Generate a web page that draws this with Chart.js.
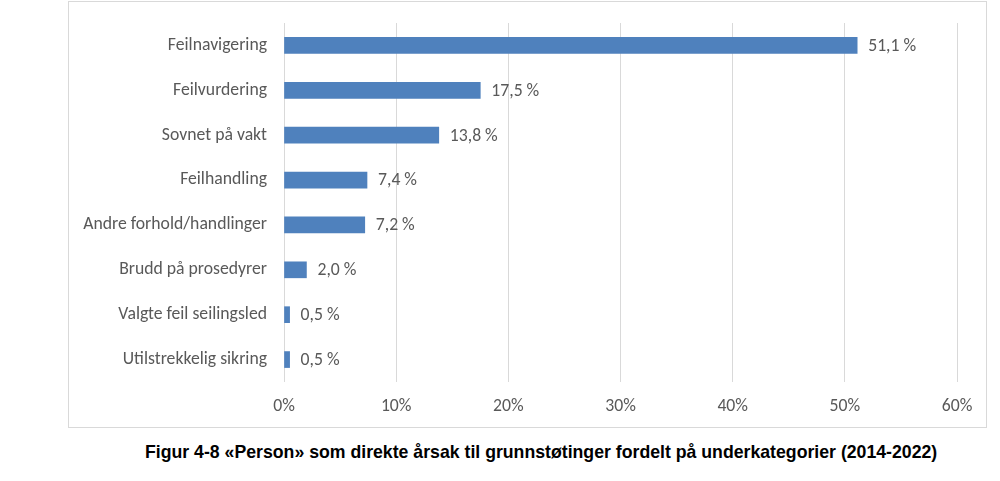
<!DOCTYPE html>
<html><head><meta charset="utf-8">
<script src="https://cdn.jsdelivr.net/npm/chart.js@4"></script>
<style>
html,body{margin:0;padding:0;background:#fff;width:1000px;height:481px;overflow:hidden}
#box{position:absolute;left:68px;top:1px;width:917px;height:425px;border:1px solid #d9d9d9;box-sizing:content-box}
#wrap{position:absolute;left:1px;top:0px;width:916px;height:425px}
#cap{position:absolute;left:0;top:442px;width:1000px;font-family:"Liberation Sans",Arial,sans-serif;font-weight:bold;font-size:17.7px;color:#000;white-space:nowrap}
#cap span{position:absolute;left:145px}
</style></head>
<body>
<div id="box"><div id="wrap"><canvas id="c"></canvas></div></div>
<div id="cap"><span id="capt">Figur 4-8 «Person» som direkte årsak til grunnstøtinger fordelt på underkategorier (2014-2022)</span></div>
<script>
const categories = ["Feilnavigering","Feilvurdering","Sovnet på vakt","Feilhandling","Andre forhold/handlinger","Brudd på prosedyrer","Valgte feil seilingsled","Utilstrekkelig sikring"];
const values = [51.1,17.5,13.8,7.4,7.2,2.0,0.5,0.5];
const valueLabels = ["51,1 %","17,5 %","13,8 %","7,4 %","7,2 %","2,0 %","0,5 %","0,5 %"];
const xTicks = [0,10,20,30,40,50,60];

const FONT = "Carlito, Lato, 'Liberation Sans', sans-serif";
const FSIZE = 17.7;
const TXT = "#595959";

const labelPlugin = {
  id:'vlabels',
  afterDatasetsDraw(chart){
    const ctx = chart.ctx;
    const meta = chart.getDatasetMeta(0);
    ctx.save();
    ctx.font = FSIZE + "px " + FONT;
    ctx.fillStyle = TXT;
    ctx.textBaseline = "middle";
    ctx.textAlign = "left";
    meta.data.forEach((el,i)=>{
      ctx.fillText(valueLabels[i], el.x + 11, el.y + 1);
    });
    ctx.restore();
  }
};

new Chart(document.getElementById('c'), {
  type:'bar',
  data:{labels:categories, datasets:[{data:values, backgroundColor:'#4F81BD', barThickness:16}]},
  options:{
    indexAxis:'y',
    responsive:true, maintainAspectRatio:false, animation:false,
    layout:{padding:{top:21,right:29,left:0,bottom:0}},
    plugins:{legend:{display:false}, tooltip:{enabled:false}},
    scales:{
      x:{min:0,max:60,
        afterBuildTicks(s){ s.ticks = xTicks.map(v=>({value:v})); },
        afterFit(s){ s.height = 45; s.paddingLeft = 0; s.paddingRight = 0; },
        grid:{color:'#d9d9d9', lineWidth:1, drawTicks:false},
        border:{display:false},
        ticks:{padding:14, color:TXT, font:{family:FONT,size:FSIZE}, callback:v=>v+'%'}
      },
      y:{
        afterFit(s){ s.width = 214; s.paddingTop = 0; s.paddingBottom = 0; },
        grid:{display:false, drawTicks:false},
        border:{display:false},
        ticks:{padding:17, color:TXT, font:{family:FONT,size:FSIZE}}
      }
    }
  },
  plugins:[labelPlugin]
});
</script>
</body></html>
